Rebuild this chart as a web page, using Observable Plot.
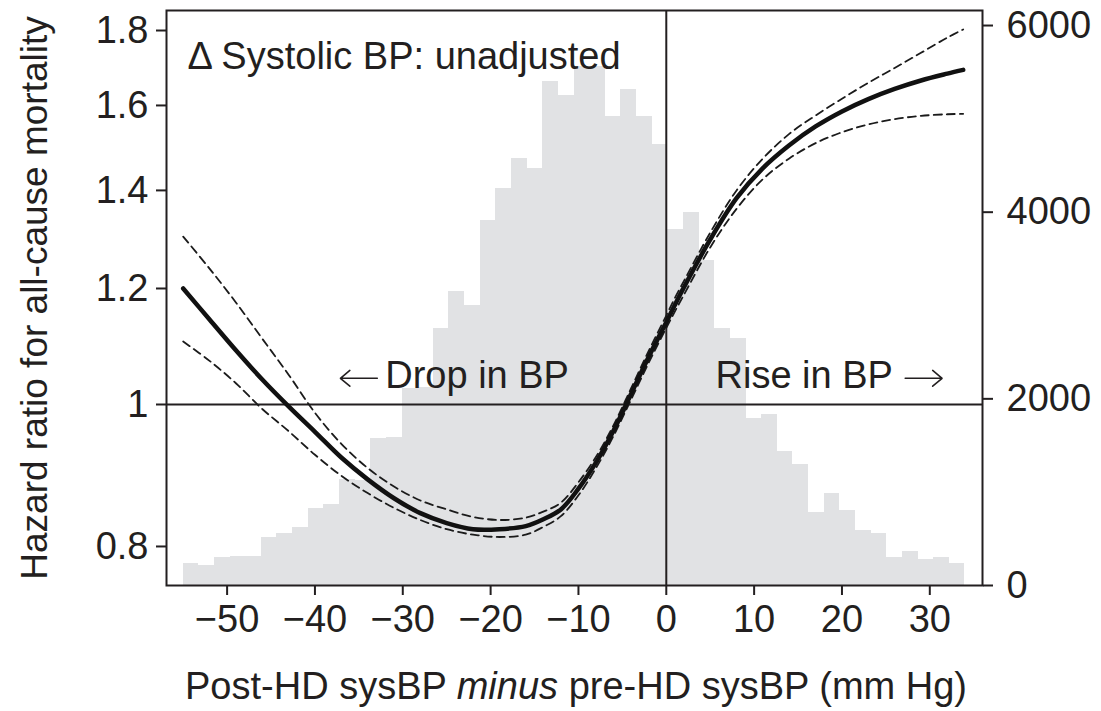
<!DOCTYPE html>
<html>
<head>
<meta charset="utf-8">
<script src="https://cdn.jsdelivr.net/npm/d3@7"></script>
<script src="https://cdn.jsdelivr.net/npm/@observablehq/plot@0.6"></script>
<style>
  body { margin: 0; background: #fff; }
  #wrap { position: relative; width: 1101px; height: 711px; }
  #wrap svg { position: absolute; left: 0; top: 0; }
</style>
</head>
<body>
<div id="wrap"></div>
<script>
// ---- Data ----
const binStart = -55;
const binWidth = 1.78;
const counts = [232, 214, 295, 314, 311, 518, 561, 625, 822, 868,
                1136, 1125, 1570, 1590, 2110, 2125, 2750, 3150, 3000, 3911,
                4257, 4580, 4470, 5400, 5255, 5560, 5560, 5020, 5310, 5030,
                4730, 3810, 4000, 3482, 2750, 2643, 1790, 1832, 1439, 1295,
                786, 982, 804, 589, 561, 304, 364, 275, 296, 232];

const xGrid   = [-55, -52, -49, -46, -43, -40, -37, -34, -31, -28, -25, -22, -19, -16, -14, -12, -10, -8, -6, -4, -2, 0, 1, 2, 5, 8, 11, 14, 17, 20, 23, 26, 29, 32, 33.8];
const hr      = [1.200, 1.143, 1.089, 1.040, 0.997, 0.958, 0.920, 0.889, 0.863, 0.843, 0.830, 0.822, 0.822, 0.826, 0.835, 0.848, 0.876, 0.913, 0.960, 1.017, 1.078, 1.138, 1.170, 1.202, 1.296, 1.383, 1.450, 1.503, 1.548, 1.585, 1.616, 1.642, 1.664, 1.682, 1.692];
const hrUpper = [1.302, 1.238, 1.174, 1.109, 1.048, 0.987, 0.940, 0.905, 0.879, 0.860, 0.848, 0.838, 0.834, 0.837, 0.845, 0.857, 0.885, 0.921, 0.968, 1.026, 1.088, 1.150, 1.183, 1.214, 1.310, 1.400, 1.472, 1.530, 1.575, 1.617, 1.658, 1.697, 1.738, 1.780, 1.803];
const hrLower = [1.104, 1.071, 1.034, 0.993, 0.959, 0.924, 0.894, 0.870, 0.850, 0.834, 0.822, 0.815, 0.812, 0.815, 0.825, 0.839, 0.867, 0.905, 0.952, 1.008, 1.068, 1.128, 1.158, 1.188, 1.280, 1.360, 1.425, 1.472, 1.508, 1.534, 1.553, 1.566, 1.574, 1.578, 1.579];

const xTicks = [-50, -40, -30, -20, -10, 0, 10, 20, 30];
const hrTicks = [0.8, 1, 1.2, 1.4, 1.6, 1.8];
const countTicks = [0, 2000, 4000, 6000];

const titleText = "\u0394 Systolic BP: unadjusted";
const dropText = "Drop in BP";
const riseText = "Rise in BP";
const yTitle = "Hazard ratio for all-cause mortality";

// ---- Layout ----
const W = 1101, H = 711;
const margins = {marginLeft: 166, marginRight: 119, marginTop: 10, marginBottom: 126};
const xDomain = [-56.9, 36.0];
const FONT = "'Liberation Sans', Arial, Helvetica, sans-serif";
const INK = "#231f20";
const baseStyle = {fontFamily: FONT, fontSize: "38px", color: INK, background: "transparent", overflow: "visible"};

const bins = counts.map((c, i) => ({x1: binStart + i * binWidth, x2: binStart + (i + 1) * binWidth, count: c}));
const mk = (ys) => xGrid.map((x, i) => ({x, y: ys[i]}));

// Histogram layer (right axis)
const hist = Plot.plot({
  width: W, height: H, ...margins,
  style: baseStyle,
  x: {domain: xDomain, axis: null},
  y: {domain: [0, 6161]},
  marks: [
    Plot.rectY(bins, {x1: "x1", x2: "x2", y: "count", fill: "#e1e2e4", shapeRendering: "crispEdges"}),
    Plot.axisY({anchor: "right", ticks: countTicks, tickFormat: d => String(d), tickSize: 10, tickPadding: 14, strokeWidth: 2, stroke: INK, fill: INK, label: null})
  ]
});

// Curves layer (left log axis)
const arrowStyle = {stroke: INK, strokeWidth: 1.6, headLength: 13, headAngle: 80};
const curves = Plot.plot({
  width: W, height: H, ...margins,
  style: baseStyle,
  x: {domain: xDomain},
  y: {type: "log", domain: [0.7524, 1.8575]},
  marks: [
    Plot.ruleY([1], {stroke: INK, strokeWidth: 2}),
    Plot.ruleX([0], {stroke: INK, strokeWidth: 2}),
    Plot.line(mk(hrUpper), {x: "x", y: "y", curve: "catmull-rom", stroke: "#1b1b1b", strokeWidth: 1.8, strokeDasharray: "8,5"}),
    Plot.line(mk(hrLower), {x: "x", y: "y", curve: "catmull-rom", stroke: "#1b1b1b", strokeWidth: 1.8, strokeDasharray: "8,5"}),
    Plot.line(mk(hr), {x: "x", y: "y", curve: "catmull-rom", stroke: "#111", strokeWidth: 4.5, strokeLinecap: "round"}),
    Plot.text([titleText], {frameAnchor: "top-left", dx: 21, dy: 32, lineAnchor: "top", textAnchor: "start", fontSize: 38, fill: INK}),
    Plot.arrow([{x1: -32.9, x2: -37.1, y: 1.042}], {x1: "x1", x2: "x2", y1: "y", y2: "y", ...arrowStyle}),
    Plot.text([dropText], {x: -32.0, y: 1.027, lineAnchor: "bottom", textAnchor: "start", fontSize: 38, fill: INK}),
    Plot.text([riseText], {x: 25.8, y: 1.027, lineAnchor: "bottom", textAnchor: "end", fontSize: 38, fill: INK}),
    Plot.arrow([{x1: 27.2, x2: 31.4, y: 1.042}], {x1: "x1", x2: "x2", y1: "y", y2: "y", ...arrowStyle}),
    Plot.frame({stroke: INK, strokeWidth: 2}),
    Plot.axisY({ticks: hrTicks, tickFormat: d => String(d), tickSize: 10, tickPadding: 8, strokeWidth: 2, stroke: INK, fill: INK, label: null}),
    Plot.axisX({ticks: xTicks, tickFormat: d => d < 0 ? "\u2212" + Math.abs(d) : String(d), tickSize: 10, tickPadding: 10, strokeWidth: 2, stroke: INK, fill: INK, label: null})
  ]
});

const wrap = document.getElementById("wrap");
wrap.appendChild(hist);
wrap.appendChild(curves);

// Axis titles (x title has an italic word)
const svg = d3.select(curves);
const xt = svg.append("text")
  .attr("x", 576).attr("y", 699)
  .attr("text-anchor", "middle")
  .attr("fill", INK)
  .style("font-family", FONT).style("font-size", "38px");
xt.append("tspan").text("Post-HD sysBP ");
xt.append("tspan").style("font-style", "italic").text("minus");
xt.append("tspan").text(" pre-HD sysBP (mm Hg)");

svg.append("text")
  .attr("transform", "translate(47,298) rotate(-90)")
  .attr("text-anchor", "middle")
  .attr("fill", INK)
  .style("font-family", FONT).style("font-size", "37px")
  .text(yTitle);
</script>
</body>
</html>
